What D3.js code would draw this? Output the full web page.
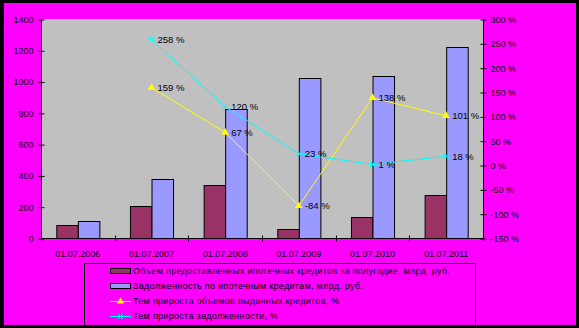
<!DOCTYPE html>
<html>
<head>
<meta charset="utf-8">
<script src="https://cdn.jsdelivr.net/npm/d3@7"></script>
<style>
  html, body { margin: 0; padding: 0; background: #000; }
  svg { display: block; }
  text { font-family: "Liberation Sans", Arial, sans-serif; fill: #000; }
</style>
</head>
<body>
<svg id="chart" width="579" height="328"></svg>
<script>
// Mortgage lending: issued volume per half-year and outstanding debt (bn RUB),
// with growth rates (%) on the secondary axis.
const categories = ["01.07.2006", "01.07.2007", "01.07.2008", "01.07.2009", "01.07.2010", "01.07.2011"];
const issuedVolume = [82, 205, 339, 57, 134, 275];
const outstandingDebt = [108, 380, 825, 1023, 1036, 1221];
const issuedGrowth = [null, 159, 67, -84, 138, 101];
const debtGrowth = [null, 258, 120, 23, 1, 18];
const leftTicks = [0, 200, 400, 600, 800, 1000, 1200, 1400];
const rightTicks = [-150, -100, -50, 0, 50, 100, 150, 200, 250, 300];
const legendLabels = [
  "Объем предоставленных ипотечных кредитов за полугодие, млрд. руб.",
  "Задолженность по ипотечным кредитам, млрд. руб.",
  "Тем прироста объемов выданных кредитов, %",
  "Тем прироста задолженности, %"
];

const colors = { issued: "#993366", debt: "#9999FF", issuedLine: "#FFFF00", debtLine: "#00FFFF" };

const svg = d3.select("#chart");

// frame
svg.append("rect").attr("x", 0).attr("y", 0).attr("width", 579).attr("height", 328).attr("fill", "#000");
svg.append("rect").attr("x", 4).attr("y", 3).attr("width", 572).attr("height", 322).attr("fill", "#FF00FF");

const plot = { left: 41, right: 483, top: 19, bottom: 238 };

const x = d3.scaleBand().domain(categories).range([plot.left, plot.right]).padding(0);
const inner = d3.scaleBand().domain(["issued", "debt"]).range([0, x.bandwidth()]).paddingInner(0).paddingOuter(0.71);
const yL = d3.scaleLinear().domain([0, 1400]).range([plot.bottom, plot.top]);
const yR = d3.scaleLinear().domain([-150, 300]).range([plot.bottom, plot.top]);

// plot background
svg.append("rect")
  .attr("x", plot.left).attr("y", plot.top)
  .attr("width", plot.right - plot.left).attr("height", plot.bottom - plot.top)
  .attr("fill", "#C0C0C0");

// bars
const groups = svg.append("g").selectAll("g").data(categories).join("g")
  .attr("transform", d => `translate(${x(d)},0)`);

groups.append("rect")
  .attr("x", inner("issued") + 0.5)
  .attr("y", (d, i) => Math.round(yL(issuedVolume[i])) + 0.5)
  .attr("width", inner.bandwidth())
  .attr("height", (d, i) => plot.bottom - Math.round(yL(issuedVolume[i])))
  .attr("fill", colors.issued).attr("stroke", "#000").attr("stroke-width", 1);

groups.append("rect")
  .attr("x", inner("debt") + 0.5)
  .attr("y", (d, i) => Math.round(yL(outstandingDebt[i])) + 0.5)
  .attr("width", inner.bandwidth())
  .attr("height", (d, i) => plot.bottom - Math.round(yL(outstandingDebt[i])))
  .attr("fill", colors.debt).attr("stroke", "#000").attr("stroke-width", 1);

// axes
const leftAxis = svg.append("g")
  .attr("transform", `translate(${plot.left + 0.5},0.5)`)
  .call(d3.axisLeft(yL).tickValues(leftTicks).tickSize(3).tickPadding(5).tickFormat(d3.format("d")));
leftAxis.selectAll(".tick line").attr("x1", 3);

const rightAxis = svg.append("g")
  .attr("transform", `translate(${plot.right + 0.5},0.5)`)
  .call(d3.axisRight(yR).tickValues(rightTicks).tickSize(3).tickPadding(4).tickFormat(d => d + " %"));
rightAxis.selectAll(".tick line").attr("x1", -3);

const bottomAxis = svg.append("g")
  .attr("transform", `translate(0,${plot.bottom + 0.5})`)
  .call(d3.axisBottom(x).tickSize(0).tickPadding(12));
bottomAxis.select(".domain").remove();
bottomAxis.append("line")
  .attr("x1", plot.left).attr("x2", plot.right + 1)
  .attr("stroke", "#000");
bottomAxis.selectAll(".boundary").data(categories.map(c => x(c)).concat([plot.right]))
  .join("line").attr("class", "boundary")
  .attr("x1", d => Math.round(d) + 0.5).attr("x2", d => Math.round(d) + 0.5)
  .attr("y1", -3).attr("y2", 3).attr("stroke", "#000");

[leftAxis, rightAxis].forEach(a => {
  a.select(".domain").remove();
  a.selectAll(".tick line").attr("stroke", "#000");
});
svg.append("line").attr("x1", plot.left + 0.5).attr("x2", plot.left + 0.5)
  .attr("y1", plot.top).attr("y2", plot.bottom + 1).attr("stroke", "#000");
svg.append("line").attr("x1", plot.right + 0.5).attr("x2", plot.right + 0.5)
  .attr("y1", plot.top).attr("y2", plot.bottom + 1).attr("stroke", "#000");

svg.selectAll(".tick text").attr("font-size", 9).attr("font-family", "Liberation Sans, Arial, sans-serif").attr("fill", "#000");

// growth lines
const cx = d => x(d) + x.bandwidth() / 2;
function drawSeries(values, color, marker) {
  const pts = categories.map((c, i) => ({ c, v: values[i] })).filter(p => p.v !== null);
  const line = d3.line().x(p => cx(p.c)).y(p => yR(p.v));
  svg.append("path").datum(pts).attr("d", line)
    .attr("fill", "none").attr("stroke", color).attr("stroke-width", 1);
  const m = svg.append("g").selectAll("g").data(pts).join("g")
    .attr("transform", p => `translate(${cx(p.c)},${yR(p.v)})`);
  if (marker === "triangle") {
    m.append("path").attr("d", d3.symbol(d3.symbolTriangle, 26)).attr("fill", color);
  } else {
    m.append("path").attr("d", "M-3,-3L3,3M-3,3L3,-3").attr("stroke", color).attr("stroke-width", 1);
  }
  svg.append("g").selectAll("text").data(pts).join("text")
    .attr("x", p => cx(p.c) + 6).attr("y", p => yR(p.v))
    .attr("dy", "0.35em").attr("font-size", 9.5)
    .text(p => p.v + " %");
}
drawSeries(issuedGrowth, colors.issuedLine, "triangle");
drawSeries(debtGrowth, colors.debtLine, "cross");

// legend
const legend = svg.append("g");
legend.append("rect").attr("x", 84.5).attr("y", 263.5).attr("width", 391).attr("height", 70)
  .attr("fill", "none").attr("stroke", "#000");
const rows = legend.selectAll("g").data(legendLabels).join("g")
  .attr("transform", (d, i) => `translate(0,${271 + i * 15})`);
rows.filter((d, i) => i < 2).append("rect")
  .attr("x", 110.5).attr("y", -2.5).attr("width", 20).attr("height", 5)
  .attr("fill", (d, i) => i === 0 ? colors.issued : colors.debt).attr("stroke", "#000");
rows.filter((d, i) => i >= 2).append("line")
  .attr("x1", 110).attr("x2", 131).attr("y1", 0.5).attr("y2", 0.5)
  .attr("stroke", (d, i) => i === 0 ? colors.issuedLine : colors.debtLine);
rows.filter((d, i) => i === 2).append("path")
  .attr("transform", "translate(120.5,0.5)")
  .attr("d", d3.symbol(d3.symbolTriangle, 22)).attr("fill", colors.issuedLine);
rows.filter((d, i) => i === 3).append("path")
  .attr("transform", "translate(120.5,0.5)")
  .attr("d", "M-2.5,-2.5L2.5,2.5M-2.5,2.5L2.5,-2.5").attr("stroke", colors.debtLine);
rows.append("text").attr("x", 133).attr("y", 0).attr("dy", "0.35em")
  .attr("font-size", 9).attr("letter-spacing", 0.3)
  .text(d => d);

// bottom and right frame edges over the legend box
svg.append("rect").attr("x", 0).attr("y", 325).attr("width", 579).attr("height", 3).attr("fill", "#000");
svg.append("rect").attr("x", 576).attr("y", 0).attr("width", 3).attr("height", 328).attr("fill", "#000");
</script>
</body>
</html>
